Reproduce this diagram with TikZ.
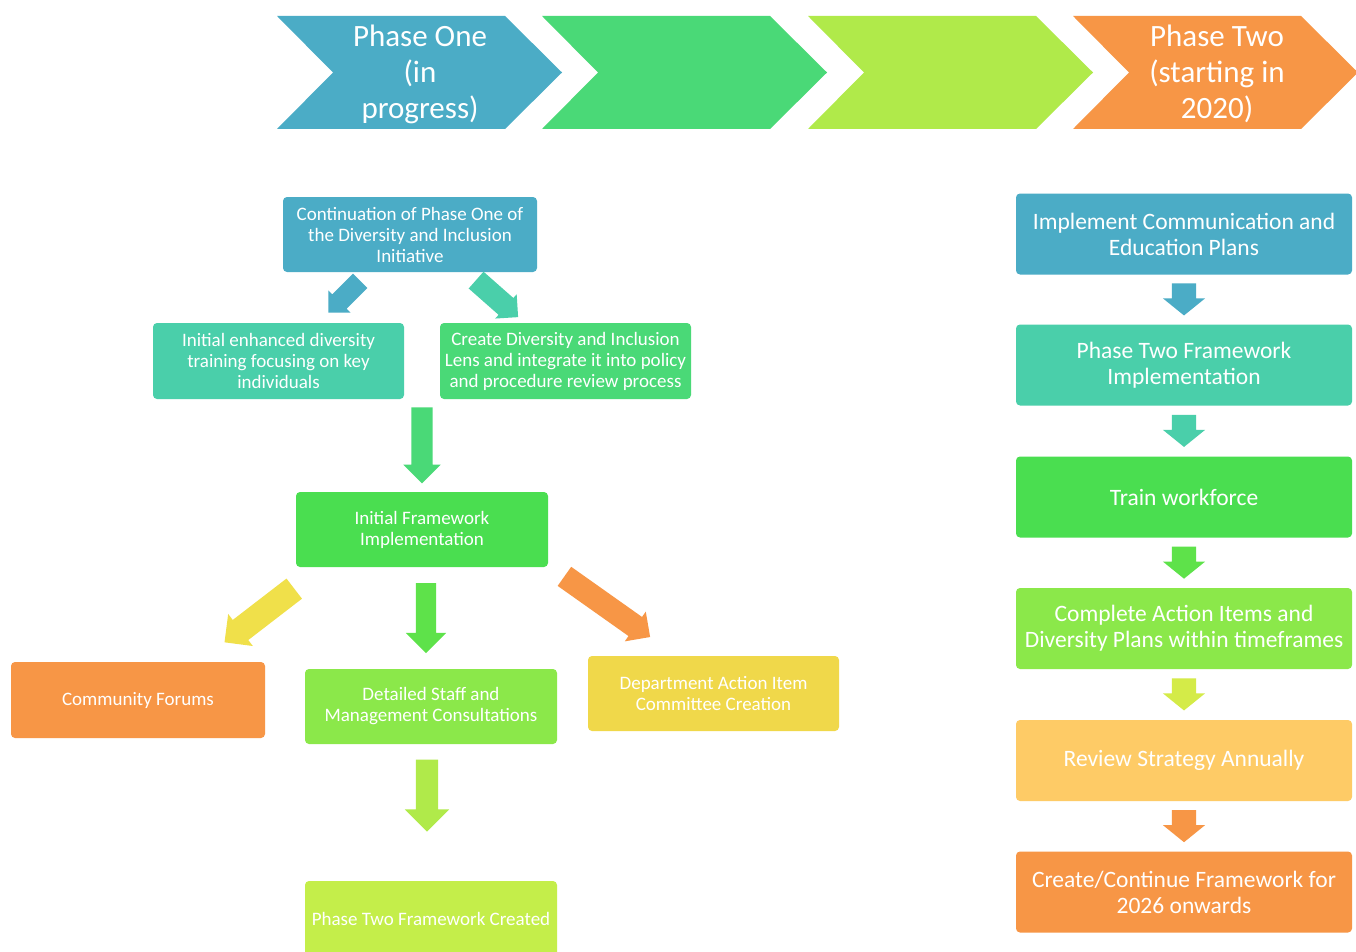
\documentclass[tikz,border=0pt]{standalone}
\usepackage{fontspec}
\setmainfont{Carlito}
\usepackage{xcolor}
\usepackage{tikz}
\usetikzlibrary{positioning,calc}
\usetikzlibrary{shapes.arrows}
\definecolor{cblue}{HTML}{4BACC6}
\definecolor{cteal}{HTML}{4ACFAA}
\definecolor{cgreen}{HTML}{4AD977}
\definecolor{cbright}{HTML}{4ADE50}
\definecolor{cgrass}{HTML}{5EE24A}
\definecolor{clime}{HTML}{8BE84A}
\definecolor{cchart}{HTML}{B0EA4A}
\definecolor{cpale}{HTML}{C4EE4A}
\definecolor{cmustard}{HTML}{D4EB48}
\definecolor{cyellow}{HTML}{F0D84A}
\definecolor{cgold}{HTML}{F0E04A}
\definecolor{cpeach}{HTML}{FECB66}
\definecolor{corange}{HTML}{F79646}
\tikzstyle{box} = [rounded corners=4pt, text=white, align=center, inner sep=0pt, font=\fontsize{19pt}{21pt}\selectfont]
\tikzstyle{bigbox} = [box, minimum width=336pt, minimum height=81pt, font=\fontsize{23.5pt}{26pt}\selectfont]
\tikzstyle{chevtext} = [text=white, align=center, inner sep=0pt, font=\fontsize{31pt}{36pt}\selectfont]
\tikzstyle{blockarrow} = [single arrow, draw=none, inner xsep=0pt, single arrow tip angle=90]
\tikzstyle{downarrow} = [blockarrow, rotate=-90, minimum height=32pt, minimum width=42pt, inner ysep=12pt, single arrow head extend=9pt, single arrow tip angle=102]

\begin{document}
\begin{tikzpicture}[x=1pt,y=-1pt]
\clip (0,0) rectangle (1356,952);
\fill[white] (0,0) rectangle (1356,952);
% chevrons
\foreach \xx/\cc in {277/cblue,542/cgreen,808/cchart,1073/corange}
  \fill[\cc] (\xx,16) -- ++(228,0) -- ++(57,56.5) -- ++(-57,56.5) -- ++(-228,0) -- ++(56,-56.5) -- cycle;
\node[chevtext] (ph1) at (420,74) {Phase One\\(in\\progress)};
\node[chevtext] (ph2) at (1217,74) {Phase Two\\(starting in\\2020)};

% phase one
\node[box, fill=cblue, minimum width=254pt, minimum height=75pt] (cont) at (410,234.5) {Continuation of Phase One of\\the Diversity and Inclusion\\Initiative};
\node[box, fill=cteal, minimum width=251pt, minimum height=76pt] (enh) at (278.5,361) {Initial enhanced diversity\\training focusing on key\\individuals};
\node[box, fill=cgreen, minimum width=251pt, minimum height=76pt] (lens) at (565.5,361) {Create Diversity and Inclusion\\Lens and integrate it into policy\\and procedure review process};
\node[box, fill=cbright, minimum width=252pt, minimum height=75pt] (initfw) at (422,529.5) {Initial Framework\\Implementation};
\node[box, fill=corange, minimum width=254pt, minimum height=76pt] (forums) at (138,700) {Community Forums};
\node[box, fill=clime, minimum width=252pt, minimum height=75pt] (staff) at (431,706.5) {Detailed Staff and\\Management Consultations};
\node[box, fill=cyellow, minimum width=251pt, minimum height=75pt] (dept) at (713.5,693.5) {Department Action Item\\Committee Creation};
\node[box, fill=cpale, minimum width=252pt, minimum height=76pt] (created) at (431,919) {Phase Two Framework Created};

\node[blockarrow, fill=cblue, rotate=-135, minimum height=45pt, minimum width=31pt, inner ysep=10pt, single arrow head extend=5.5pt] (b1) at (347.9,293.1) {};
\node[blockarrow, fill=cteal, rotate=-41.4, minimum height=56pt, minimum width=32pt, inner ysep=11pt, single arrow head extend=5pt] (b2) at (492.9,294.9) {};
\node[blockarrow, fill=cgreen, rotate=-90, minimum height=76pt, minimum width=37pt, inner ysep=10.5pt, single arrow head extend=8pt] (b3) at (422,440) {};
\node[blockarrow, fill=cgold, rotate=-142.4, minimum height=88pt, minimum width=40pt, inner ysep=12.5pt, single arrow head extend=7.5pt] (b4) at (264.4,611.6) {};
\node[blockarrow, fill=cgrass, rotate=-90, minimum height=70pt, minimum width=40pt, inner ysep=10pt, single arrow head extend=10pt] (b5) at (426,613) {};
\node[blockarrow, fill=corange, rotate=-35.3, minimum height=105pt, minimum width=36pt, inner ysep=11.5pt, single arrow head extend=6.5pt] (b6) at (602.5,603.3) {};
\node[blockarrow, fill=cchart, rotate=-90, minimum height=72pt, minimum width=44pt, inner ysep=11pt, single arrow head extend=11pt] (b7) at (427,790) {};

% phase two
\node[bigbox, fill=cblue] (impl) at (1184,234) {Implement Communication and\\Education Plans};
\node[bigbox, fill=cteal] (p2fw) at (1184,365) {Phase Two Framework\\Implementation};
\node[bigbox, fill=cbright] (train) at (1184,497) {Train workforce};
\node[bigbox, fill=clime] (actions) at (1184,628.5) {Complete Action Items and\\Diversity Plans within timeframes};
\node[bigbox, fill=cpeach] (review) at (1184,760.5) {Review Strategy Annually};
\node[bigbox, fill=corange] (next) at (1184,892) {Create/Continue Framework for\\2026 onwards};
\node[downarrow, fill=cblue] (r1) at ($(impl.south)!0.5!(p2fw.north)+(0,-5)$) {};
\node[downarrow, fill=cteal] (r2) at ($(p2fw.south)!0.5!(train.north)+(0,-5)$) {};
\node[downarrow, fill=cgrass] (r3) at ($(train.south)!0.5!(actions.north)+(0,-5)$) {};
\node[downarrow, fill=cmustard] (r4) at ($(actions.south)!0.5!(review.north)+(0,-5)$) {};
\node[downarrow, fill=corange] (r5) at ($(review.south)!0.5!(next.north)+(0,-5)$) {};
\end{tikzpicture}
\end{document}
